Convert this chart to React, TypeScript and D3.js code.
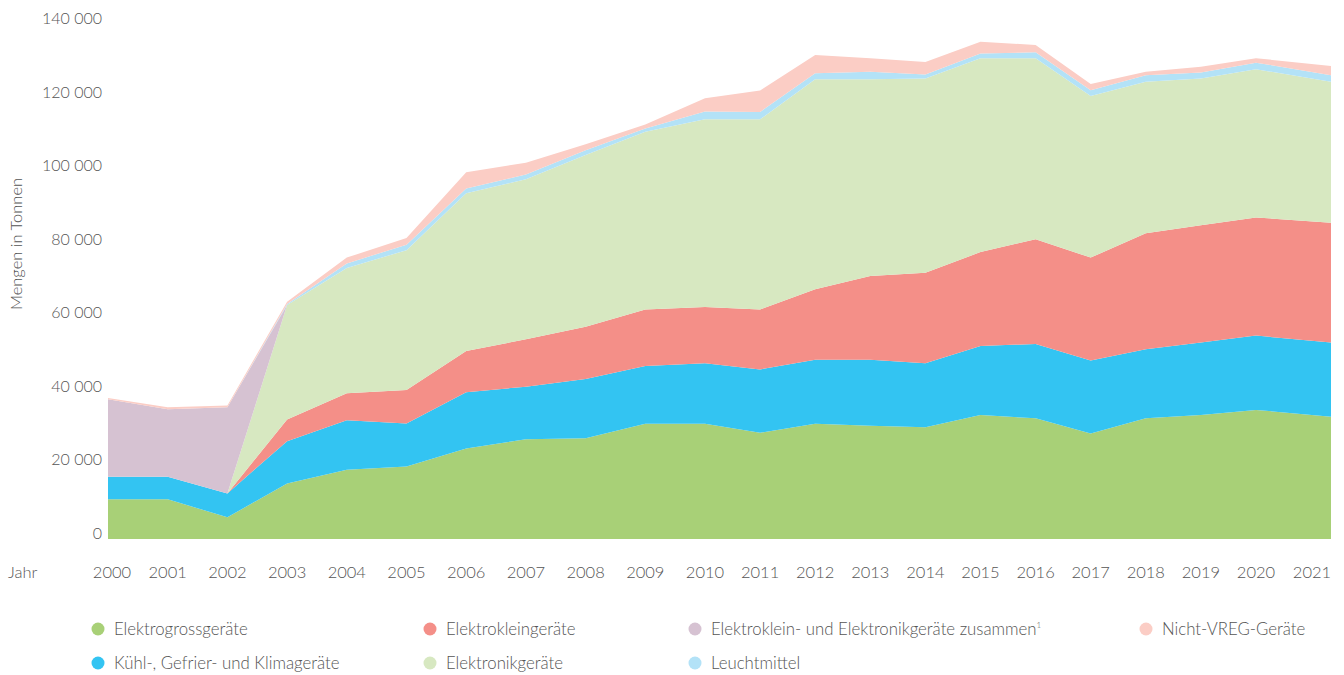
import React from "react";
import * as d3 from "d3";

const years = [2000, 2001, 2002, 2003, 2004, 2005, 2006, 2007, 2008, 2009, 2010, 2011, 2012, 2013, 2014, 2015, 2016, 2017, 2018, 2019, 2020, 2021];

const elektrogross = [10800, 10800, 5900, 15100, 18800, 19700, 24600, 27100, 27400, 31300, 31300, 28900, 31300, 30800, 30400, 33700, 32800, 28700, 32800, 33700, 35100, 33200];
const kuehl = [6100, 6100, 6500, 11500, 13500, 11700, 15300, 14300, 16100, 15700, 16500, 17200, 17400, 17900, 17400, 18800, 20200, 19800, 18800, 19700, 20200, 20200];
const elektroklein = [0, 0, 0, 5900, 7300, 9100, 11200, 12900, 14200, 15400, 15300, 16300, 19200, 22800, 24600, 25500, 28500, 28000, 31500, 31900, 32100, 32600];
const elektronik = [0, 0, 0, 31100, 34100, 38000, 42900, 43500, 46700, 48300, 51000, 51700, 57100, 53500, 52800, 52700, 49200, 43900, 41200, 39900, 40300, 38300];
const zusammen = [21100, 18400, 23400, 0, 0, 0, 0, 0, 0, 0, 0, 0, 0, 0, 0, 0, 0, 0, 0, 0, 0, 0];
const leuchtmittel = [0, 0, 0, 300, 1200, 1500, 1300, 1300, 1300, 900, 2100, 2000, 1600, 2000, 1100, 1300, 1600, 1600, 1800, 1600, 1800, 1800];
const nichtVreg = [300, 500, 500, 600, 1600, 1800, 4400, 3200, 1600, 1100, 3600, 5800, 5000, 3700, 3400, 3200, 2000, 1700, 900, 1600, 1200, 2500];

const yTicks = [0, 20000, 40000, 60000, 80000, 100000, 120000, 140000];

const seriesKeys = ["gross", "kuehl", "klein", "elektronik", "zusammen", "leucht", "nicht"];
const seriesLabels: Record<string, string> = {
  gross: "Elektrogrossgeräte",
  kuehl: "Kühl-, Gefrier- und Klimageräte",
  klein: "Elektrokleingeräte",
  elektronik: "Elektronikgeräte",
  zusammen: "Elektroklein- und Elektronikgeräte zusammen",
  leucht: "Leuchtmittel",
  nicht: "Nicht-VREG-Geräte",
};
const seriesColors: Record<string, string> = {
  gross: "#a8d077",
  kuehl: "#33c4f2",
  klein: "#f48f88",
  elektronik: "#d7e8c1",
  zusammen: "#d6c2d2",
  leucht: "#b3e2f7",
  nicht: "#fbcdc5",
};

const legendLayout = [
  { key: "gross", x: 98, y: 629 },
  { key: "kuehl", x: 98, y: 663 },
  { key: "klein", x: 430, y: 629 },
  { key: "elektronik", x: 430, y: 663 },
  { key: "zusammen", x: 695, y: 629 },
  { key: "leucht", x: 695, y: 663 },
  { key: "nicht", x: 1146, y: 629 },
];

const FONT = "Lato, 'Open Sans', sans-serif";
const TEXT = "#555";

export default function App() {
  const table = years.map((yr, i) => ({
    year: yr,
    gross: elektrogross[i],
    kuehl: kuehl[i],
    klein: elektroklein[i],
    elektronik: elektronik[i],
    zusammen: zusammen[i],
    leucht: leuchtmittel[i],
    nicht: nichtVreg[i],
  }));

  const x = d3.scaleLinear().domain([2000, 2010, 2020, 2021]).range([108, 705, 1256, 1331]);
  const y = d3.scaleLinear().domain([0, 140000]).range([539, 24]);

  const stack = d3.stack<any>().keys(seriesKeys);
  const layers = stack(table);

  const area = d3
    .area<any>()
    .x((d) => x(d.data.year))
    .y0((d) => y(d[0]))
    .y1((d) => y(d[1]));

  return (
    <svg
      width={1344}
      height={675}
      style={{ position: "absolute", left: 0, top: 0, background: "#fff" }}
      fontFamily={FONT}
    >
      <g>
        {layers.map((layer) => (
          <path key={layer.key} d={area(layer as any) || ""} fill={seriesColors[layer.key]} />
        ))}
      </g>
      <g>
        {yTicks.map((t) => (
          <text
            key={t}
            x={102}
            y={y(t) - 4}
            textAnchor="end"
            dominantBaseline="middle"
            fontSize={16}
            fill={TEXT}
            fontWeight={300}
          >
            {d3.format(",")(t).replace(/,/g, " ")}
          </text>
        ))}
      </g>
      <text
        transform="translate(22,244) rotate(-90)"
        textAnchor="middle"
        fontSize={16.5}
        fill={TEXT}
        fontWeight={300}
      >
        Mengen in Tonnen
      </text>
      <text x={8} y={578} fontSize={16.5} fill={TEXT} fontWeight={300}>
        Jahr
      </text>
      <g>
        {years.map((yr) => (
          <text
            key={yr}
            x={Math.min(Math.max(x(yr), 112), 1312)}
            y={578}
            textAnchor="middle"
            fontSize={16.5}
            fill={TEXT}
            fontWeight={300}
          >
            {yr}
          </text>
        ))}
      </g>
      <g>
        {legendLayout.map((l) => (
          <g key={l.key}>
            <circle cx={l.x} cy={l.y} r={6.5} fill={seriesColors[l.key]} />
            <text x={l.x + 16} y={l.y + 5.5} fontSize={16.8} fill={TEXT} fontWeight={300}>
              {seriesLabels[l.key]}
              {l.key === "zusammen" ? (
                <tspan dy={-7} fontSize={8}>
                  1
                </tspan>
              ) : null}
            </text>
          </g>
        ))}
      </g>
    </svg>
  );
}
